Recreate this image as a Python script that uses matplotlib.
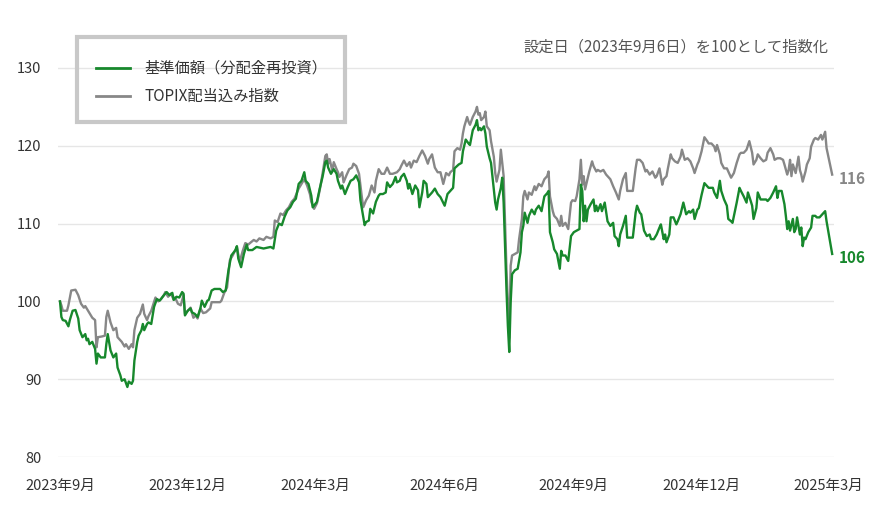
import numpy as np
import pandas as pd
import matplotlib
matplotlib.use("Agg")
import matplotlib.pyplot as plt
from matplotlib.patches import Rectangle

plt.rcParams['font.family'] = ['Noto Sans CJK JP', 'DejaVu Sans']

# data (days after the set date 2023-09-06, index value)
start = pd.Timestamp('2023-09-06')

fund_days = [0, 1, 2, 4, 6, 7, 9, 11, 13, 14, 16, 18, 19, 20, 21, 23, 25, 26, 27, 29,
             32, 33, 34, 36, 38, 40, 41, 43, 44, 46, 48, 49, 51, 52, 53, 55, 56, 58, 59, 60,
             62, 63, 65, 67, 69, 71, 74, 76, 78, 80, 81, 83, 85, 87, 88, 89, 91, 93, 94, 96,
             98, 100, 101, 103, 105, 106, 108, 110, 114, 116, 118, 120, 122, 125, 126, 127, 129, 131, 133, 134,
             137, 140, 145, 150, 152, 154, 156, 158, 160, 162, 164, 166, 168, 170, 172, 174, 175, 177, 179, 180,
             183, 185, 187, 189, 190, 191, 193, 195, 197, 198, 200, 201, 203, 205, 207, 209, 211, 213, 214, 216,
             217, 218, 220, 221, 223, 225, 227, 228, 230, 232, 233, 235, 237, 239, 240, 242, 243, 245, 247, 248,
             249, 251, 253, 255, 256, 258, 259, 261, 262, 265, 267, 269, 271, 274, 276, 277, 280, 281, 284, 286,
             287, 289, 291, 292, 294, 296, 297, 298, 299, 300, 302, 303, 304, 306, 307, 309, 310, 311, 312, 314,
             315, 316, 317, 318, 319, 320, 321, 322, 324, 326, 328, 329, 330, 331, 333, 334, 336, 338, 339, 341,
             343, 345, 347, 348, 349, 351, 352, 354, 356, 357, 358, 360, 362, 364, 366, 368, 370, 371, 372, 373,
             374, 375, 376, 378, 380, 381, 382, 383, 385, 386, 388, 390, 392, 394, 395, 397, 398, 399, 401, 403,
             404, 406, 408, 410, 411, 413, 414, 416, 418, 420, 421, 423, 425, 427, 428, 430, 431, 432, 434, 435,
             437, 439, 440, 442, 444, 446, 448, 449, 451, 452, 454, 455, 457, 459, 461, 462, 465, 466, 468, 470,
             471, 473, 475, 476, 478, 479, 481, 482, 484, 485, 487, 489, 490, 492, 493, 494, 496, 497, 499, 501,
             503, 504, 506, 508, 510, 511, 512, 514, 516, 517, 518, 519, 520, 522, 523, 524, 525, 527, 528, 529,
             530, 531, 533, 535, 536, 538, 539, 541, 543, 545, 546, 548, 550]
fund_vals = [100.0, 98.0, 97.6, 97.5, 96.8, 97.6, 98.8, 98.9, 97.8, 96.3, 95.4, 95.8, 95.0, 95.2, 94.5, 94.8, 93.9, 92.0, 93.3, 92.8,
             92.8, 94.5, 95.8, 93.7, 92.8, 93.3, 91.5, 90.5, 89.8, 90.0, 89.0, 89.7, 89.4, 89.8, 92.4, 94.8, 95.6, 96.3, 97.1, 96.3,
             97.1, 97.3, 97.1, 99.3, 100.3, 100.1, 100.8, 101.2, 100.8, 101.1, 100.2, 100.6, 100.5, 101.2, 101.0, 98.2, 98.8, 99.1, 98.6, 98.4,
             98.0, 99.1, 100.1, 99.3, 100.1, 100.2, 101.4, 101.6, 101.6, 101.2, 101.4, 104.0, 105.9, 106.6, 107.1, 105.5, 104.4, 106.1, 107.3, 106.6,
             106.6, 107.0, 106.8, 107.0, 106.8, 109.1, 110.0, 109.8, 110.9, 111.7, 112.1, 112.8, 113.2, 115.1, 115.5, 116.6, 115.5, 115.1, 113.6, 112.1,
             112.8, 114.5, 116.0, 117.9, 118.1, 117.2, 116.4, 117.0, 116.4, 115.5, 114.5, 114.9, 113.8, 114.7, 115.5, 115.7, 116.2, 115.3, 113.0, 110.9,
             109.8, 110.2, 110.4, 111.9, 111.3, 112.8, 113.6, 113.8, 113.8, 114.0, 115.3, 114.7, 115.1, 116.0, 115.3, 115.5, 116.0, 116.4, 115.5, 114.5,
             115.1, 113.8, 114.9, 114.3, 112.1, 114.0, 115.5, 115.1, 113.4, 114.0, 114.5, 113.8, 113.4, 112.3, 113.8, 114.0, 114.6, 117.1, 117.6, 117.8,
             119.3, 120.8, 120.3, 120.1, 122.0, 122.7, 123.3, 122.0, 122.3, 122.0, 122.5, 121.6, 119.9, 118.4, 117.8, 114.4, 112.7, 111.8, 113.1, 114.6,
             115.9, 112.7, 107.1, 101.6, 96.9, 93.5, 99.9, 103.5, 104.0, 104.2, 106.3, 108.9, 109.7, 111.4, 110.1, 111.0, 111.8, 111.2, 111.8, 112.3,
             111.6, 113.5, 113.9, 114.2, 108.9, 107.6, 106.7, 106.1, 104.2, 106.5, 105.9, 105.9, 105.2, 108.4, 108.9, 109.1, 109.3, 115.0, 114.2, 110.3,
             112.3, 110.3, 111.8, 112.5, 113.1, 111.6, 112.3, 111.6, 112.5, 111.6, 112.7, 110.3, 109.7, 110.1, 108.4, 108.0, 107.1, 108.6, 109.7, 111.0,
             108.2, 108.2, 108.2, 111.4, 112.3, 111.4, 111.2, 109.1, 108.4, 108.6, 108.0, 108.0, 108.6, 109.5, 109.9, 108.0, 108.6, 107.6, 108.6, 110.8,
             110.8, 109.9, 110.3, 111.2, 112.7, 111.2, 111.6, 111.4, 111.8, 110.6, 111.8, 112.0, 113.7, 115.2, 114.8, 114.6, 114.6, 114.0, 113.3, 115.5,
             114.2, 113.1, 112.3, 110.6, 110.3, 110.1, 111.8, 112.7, 114.6, 114.2, 113.5, 112.7, 114.0, 112.9, 112.3, 110.6, 112.0, 114.0, 113.1, 113.1,
             113.1, 112.9, 113.3, 114.0, 114.8, 113.3, 114.2, 114.2, 112.5, 111.0, 109.3, 110.3, 109.1, 110.6, 108.9, 109.3, 110.8, 108.6, 109.5, 107.1,
             108.2, 108.0, 108.9, 109.5, 111.0, 111.0, 110.8, 110.8, 111.2, 111.6, 110.3, 108.2, 106.1]

topix_days = [0, 1, 2, 5, 6, 8, 11, 13, 15, 17, 18, 20, 23, 25, 26, 27, 30, 32, 33, 34,
              36, 38, 40, 41, 44, 46, 47, 49, 51, 52, 53, 55, 57, 59, 60, 62, 63, 65, 68, 70,
              72, 74, 75, 77, 79, 81, 82, 84, 86, 88, 89, 91, 93, 95, 97, 98, 100, 102, 104, 107,
              108, 110, 114, 115, 117, 119, 121, 123, 126, 128, 130, 132, 134, 138, 140, 142, 145, 147, 150, 152,
              153, 155, 157, 159, 161, 163, 165, 167, 170, 172, 174, 176, 178, 179, 181, 183, 185, 187, 189, 190,
              191, 192, 194, 195, 197, 198, 199, 201, 202, 204, 206, 208, 209, 211, 213, 215, 216, 218, 220, 222,
              224, 225, 227, 229, 231, 233, 235, 237, 240, 242, 243, 245, 247, 249, 250, 252, 254, 256, 258, 260,
              262, 263, 265, 267, 269, 271, 273, 275, 277, 278, 280, 281, 283, 285, 286, 287, 288, 290, 291, 292,
              294, 296, 297, 298, 299, 300, 302, 303, 304, 306, 307, 309, 310, 311, 313, 314, 316, 317, 318, 319,
              320, 321, 322, 324, 326, 327, 329, 330, 331, 333, 334, 336, 338, 339, 341, 343, 345, 347, 348, 349,
              351, 352, 354, 356, 357, 358, 360, 362, 364, 365, 367, 368, 370, 371, 372, 373, 374, 376, 377, 379,
              380, 382, 383, 385, 387, 389, 391, 392, 394, 396, 398, 399, 401, 403, 404, 406, 408, 410, 411, 413,
              415, 417, 418, 420, 422, 424, 425, 427, 429, 430, 432, 433, 435, 436, 438, 440, 442, 443, 445, 447,
              449, 451, 452, 454, 455, 457, 459, 461, 462, 464, 466, 467, 468, 470, 471, 473, 475, 477, 478, 480,
              482, 484, 485, 487, 489, 491, 493, 494, 496, 497, 499, 501, 503, 504, 506, 508, 509, 511, 513, 515,
              516, 518, 519, 520, 521, 522, 524, 526, 527, 528, 529, 531, 532, 534, 535, 537, 538, 540, 542, 543,
              545, 546, 548, 550]
topix_vals = [100.0, 99.5, 98.8, 98.8, 99.5, 101.4, 101.5, 100.8, 99.7, 99.2, 99.4, 98.8, 97.9, 97.6, 94.1, 95.4, 95.5, 95.6, 98.0, 98.8,
              97.3, 96.3, 96.6, 95.4, 94.8, 94.2, 94.5, 93.9, 94.5, 94.1, 96.3, 97.9, 98.4, 99.6, 98.4, 97.6, 98.1, 98.8, 100.5, 100.0,
              100.3, 100.8, 101.2, 100.6, 101.0, 100.2, 100.5, 99.7, 99.5, 100.8, 98.4, 98.8, 99.2, 97.9, 98.2, 97.8, 99.1, 98.5, 98.6, 99.1,
              99.9, 99.9, 99.9, 100.1, 101.1, 101.8, 105.3, 105.9, 107.0, 105.1, 106.4, 107.5, 107.3, 107.9, 107.7, 108.1, 107.9, 108.3, 108.1, 108.3,
              110.4, 110.2, 111.3, 111.1, 111.7, 112.1, 112.8, 113.2, 114.5, 115.1, 115.7, 114.9, 113.8, 112.8, 111.9, 112.6, 114.3, 116.4, 118.7, 118.9,
              117.7, 118.3, 116.8, 117.9, 117.0, 116.6, 116.0, 116.6, 115.3, 116.2, 117.0, 117.2, 117.7, 117.4, 116.4, 113.4, 112.1, 113.0, 113.6, 114.9,
              114.0, 115.5, 117.0, 116.4, 116.4, 117.2, 116.4, 116.4, 116.6, 117.0, 117.4, 118.1, 117.4, 117.9, 117.2, 118.1, 117.9, 118.7, 119.4, 118.7,
              117.7, 118.3, 118.9, 117.2, 116.6, 116.6, 115.1, 116.5, 116.2, 116.6, 116.9, 119.3, 119.7, 119.5, 120.3, 121.6, 122.5, 123.7, 123.1, 122.7,
              123.7, 124.4, 125.0, 124.0, 124.2, 123.3, 123.7, 124.4, 122.5, 122.0, 120.6, 118.6, 116.5, 115.4, 116.9, 119.5, 116.1, 110.1, 104.2, 99.9,
              95.3, 104.6, 105.9, 106.1, 106.3, 108.0, 110.6, 113.5, 114.2, 113.1, 114.0, 113.7, 114.8, 114.3, 115.1, 114.8, 115.7, 116.1, 116.7, 113.5,
              111.6, 111.0, 110.6, 109.7, 111.0, 109.7, 110.1, 109.3, 112.7, 113.0, 112.9, 113.5, 115.7, 118.2, 115.0, 116.1, 114.4, 115.9, 116.7, 118.0,
              117.4, 116.7, 116.9, 116.7, 116.9, 116.3, 115.9, 115.7, 114.8, 114.0, 113.1, 114.2, 115.7, 116.5, 114.2, 114.2, 114.2, 117.1, 118.2, 118.2,
              117.8, 116.7, 116.9, 116.3, 116.7, 115.9, 116.1, 117.1, 115.0, 115.7, 116.1, 117.1, 118.9, 118.4, 118.0, 117.8, 118.6, 119.5, 118.2, 118.4,
              118.0, 117.1, 116.5, 117.6, 118.0, 119.3, 121.1, 120.6, 120.3, 120.3, 119.9, 119.3, 120.1, 118.9, 117.8, 117.1, 117.1, 116.3, 115.9, 116.5,
              117.8, 118.9, 119.1, 119.1, 119.5, 120.6, 119.1, 117.6, 118.2, 118.9, 118.4, 118.0, 118.2, 119.1, 119.7, 118.9, 118.2, 118.4, 118.4, 118.2,
              117.6, 116.3, 116.9, 118.2, 116.1, 117.6, 116.5, 118.6, 116.9, 116.3, 115.4, 116.7, 117.6, 118.4, 119.9, 120.8, 121.0, 120.8, 121.4, 120.8,
              121.8, 119.7, 118.0, 116.3]

fund_label = '基準価額（分配金再投資）'
topix_label = 'TOPIX配当込み指数'
note = '設定日（2023年9月6日）を100として指数化'
tick_dates = ['2023-09-06', '2023-12-06', '2024-03-06', '2024-06-06', '2024-09-06', '2024-12-06', '2025-03-06']
tick_labels = ['2023年9月', '2023年12月', '2024年3月', '2024年6月', '2024年9月', '2024年12月', '2025年3月']
y_ticks = [80, 90, 100, 110, 120, 130]

green = '#17882c'
grey = '#878787'
text_col = '#333333'

fund_x = start + pd.to_timedelta(fund_days, unit='D')
topix_x = start + pd.to_timedelta(topix_days, unit='D')

fig = plt.figure(figsize=(8.9, 5.05), dpi=100)
ax = fig.add_axes([0.0652, 0.095, 0.8714, 0.8474])

ax.plot(topix_x, topix_vals, color=grey, lw=1.7, label=topix_label, zorder=3)
ax.plot(fund_x, fund_vals, color=green, lw=1.7, label=fund_label, zorder=4)

ax.set_xlim(start - pd.Timedelta(days=1.4), start + pd.Timedelta(days=551))
ax.set_ylim(80, 135)
ax.set_yticks(y_ticks)
ax.grid(axis='y', color='#e6e6e6', lw=1)
ax.set_axisbelow(True)
for s in ax.spines.values():
    s.set_visible(False)
ax.tick_params(axis='both', length=0, labelsize=10.5, labelcolor=text_col)
ax.tick_params(axis='y', pad=12)
ax.tick_params(axis='x', pad=16)
ax.set_xticks(pd.to_datetime(tick_dates))
ax.set_xticklabels(tick_labels)

# legend, fund first, with a plain grey box around it
h, l = ax.get_legend_handles_labels()
leg = ax.legend(h[::-1], l[::-1], loc='upper left', bbox_to_anchor=(0.049, 0.928),
                borderaxespad=0, borderpad=0, fontsize=11, frameon=False,
                handlelength=2.2, handletextpad=0.95, labelspacing=0.72)
for t in leg.get_texts():
    t.set_color(text_col)
for ln in leg.get_lines():
    ln.set_linewidth(2)
ax.add_patch(Rectangle((0.0245, 0.7827), 0.3455, 0.1983, transform=ax.transAxes,
                       fill=False, edgecolor='#c8c8c8', lw=3, clip_on=False, zorder=5))

ax.text(0.9928, 0.958, note, transform=ax.transAxes, ha='right', va='center',
        fontsize=11, color='#555555')

# end value labels
ax.annotate(f'{topix_vals[-1]:.0f}', (topix_x[-1], topix_vals[-1]), xytext=(5, -3),
            textcoords='offset points', va='center', ha='left', fontsize=11,
            fontweight='bold', color=grey, annotation_clip=False)
ax.annotate(f'{fund_vals[-1]:.0f}', (fund_x[-1], fund_vals[-1]), xytext=(5, -3),
            textcoords='offset points', va='center', ha='left', fontsize=11,
            fontweight='bold', color=green, annotation_clip=False)

plt.savefig('out.png', dpi=100)
